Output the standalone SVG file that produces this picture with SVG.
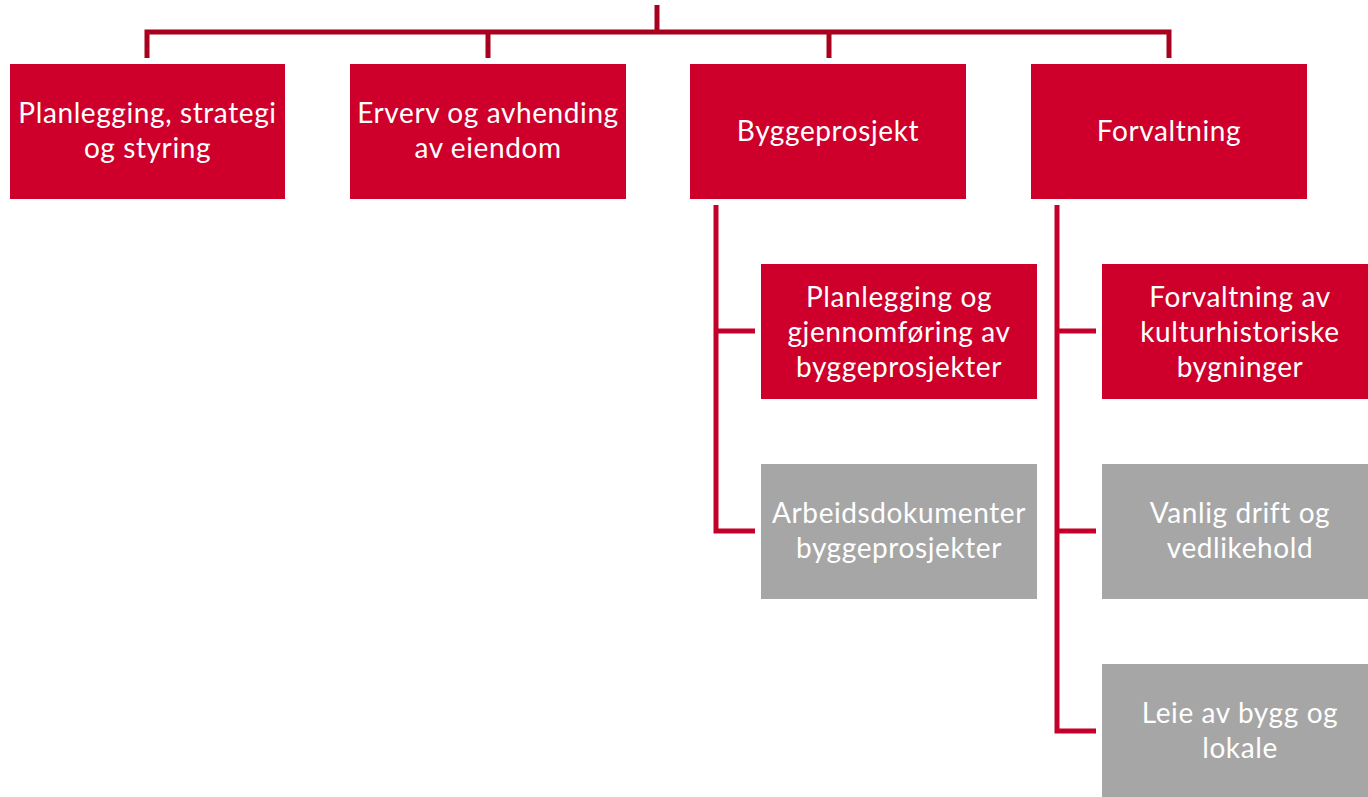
<svg xmlns="http://www.w3.org/2000/svg" width="1368" height="797" viewBox="0 0 1368 797">
  <style>
    .red { fill: #CE002B; }
    .grey { fill: #A6A6A6; }
    .lbl { font-family: Lato, "Open Sans", "Liberation Sans", sans-serif; font-size: 28px; letter-spacing: 0.6px; fill: #FFFFFF; text-anchor: middle; }
    .top { fill: none; stroke: #A8001F; stroke-width: 5; stroke-linejoin: miter; }
    .sub { fill: none; stroke: #C4002A; stroke-width: 5; stroke-linejoin: miter; }
  </style>
  <rect width="1368" height="797" fill="#FFFFFF"/>

  <g id="connectors">
    <path class="top" d="M657,5 V32"/>
    <path class="top" d="M147,58 V32 H1169 V58"/>
    <path class="top" d="M488,32 V58"/>
    <path class="top" d="M829,32 V58"/>
    <path class="sub" d="M716,205 V531 H755"/>
    <path class="sub" d="M716,331 H755"/>
    <path class="sub" d="M1057,205 V731 H1096"/>
    <path class="sub" d="M1057,331 H1096"/>
    <path class="sub" d="M1057,531 H1096"/>
  </g>

  <g id="node-planlegging">
    <rect class="red" x="10" y="64" width="275" height="135"/>
    <text class="lbl" x="147.5" y="123">Planlegging, strategi</text>
    <text class="lbl" x="147.5" y="158">og styring</text>
  </g>

  <g id="node-erverv">
    <rect class="red" x="350" y="64" width="276" height="135"/>
    <text class="lbl" x="488" y="123">Erverv og avhending</text>
    <text class="lbl" x="488" y="158">av eiendom</text>
  </g>

  <g id="node-byggeprosjekt">
    <rect class="red" x="690" y="64" width="276" height="135"/>
    <text class="lbl" x="828" y="141">Byggeprosjekt</text>
  </g>

  <g id="node-forvaltning">
    <rect class="red" x="1031" y="64" width="276" height="135"/>
    <text class="lbl" x="1169" y="141">Forvaltning</text>
  </g>

  <g id="node-gjennomforing">
    <rect class="red" x="761" y="264" width="276" height="135"/>
    <text class="lbl" x="899" y="307">Planlegging og</text>
    <text class="lbl" x="899" y="342">gjennomføring av</text>
    <text class="lbl" x="899" y="377">byggeprosjekter</text>
  </g>

  <g id="node-arbeidsdokumenter">
    <rect class="grey" x="761" y="464" width="276" height="135"/>
    <text class="lbl" x="899" y="523">Arbeidsdokumenter</text>
    <text class="lbl" x="899" y="558">byggeprosjekter</text>
  </g>

  <g id="node-kulturhistoriske">
    <rect class="red" x="1102" y="264" width="276" height="135"/>
    <text class="lbl" x="1240" y="307">Forvaltning av</text>
    <text class="lbl" x="1240" y="342">kulturhistoriske</text>
    <text class="lbl" x="1240" y="377">bygninger</text>
  </g>

  <g id="node-drift">
    <rect class="grey" x="1102" y="464" width="276" height="135"/>
    <text class="lbl" x="1240" y="523">Vanlig drift og</text>
    <text class="lbl" x="1240" y="558">vedlikehold</text>
  </g>

  <g id="node-leie">
    <rect class="grey" x="1102" y="664" width="276" height="140"/>
    <text class="lbl" x="1240" y="723">Leie av bygg og</text>
    <text class="lbl" x="1240" y="758">lokale</text>
  </g>
</svg>
